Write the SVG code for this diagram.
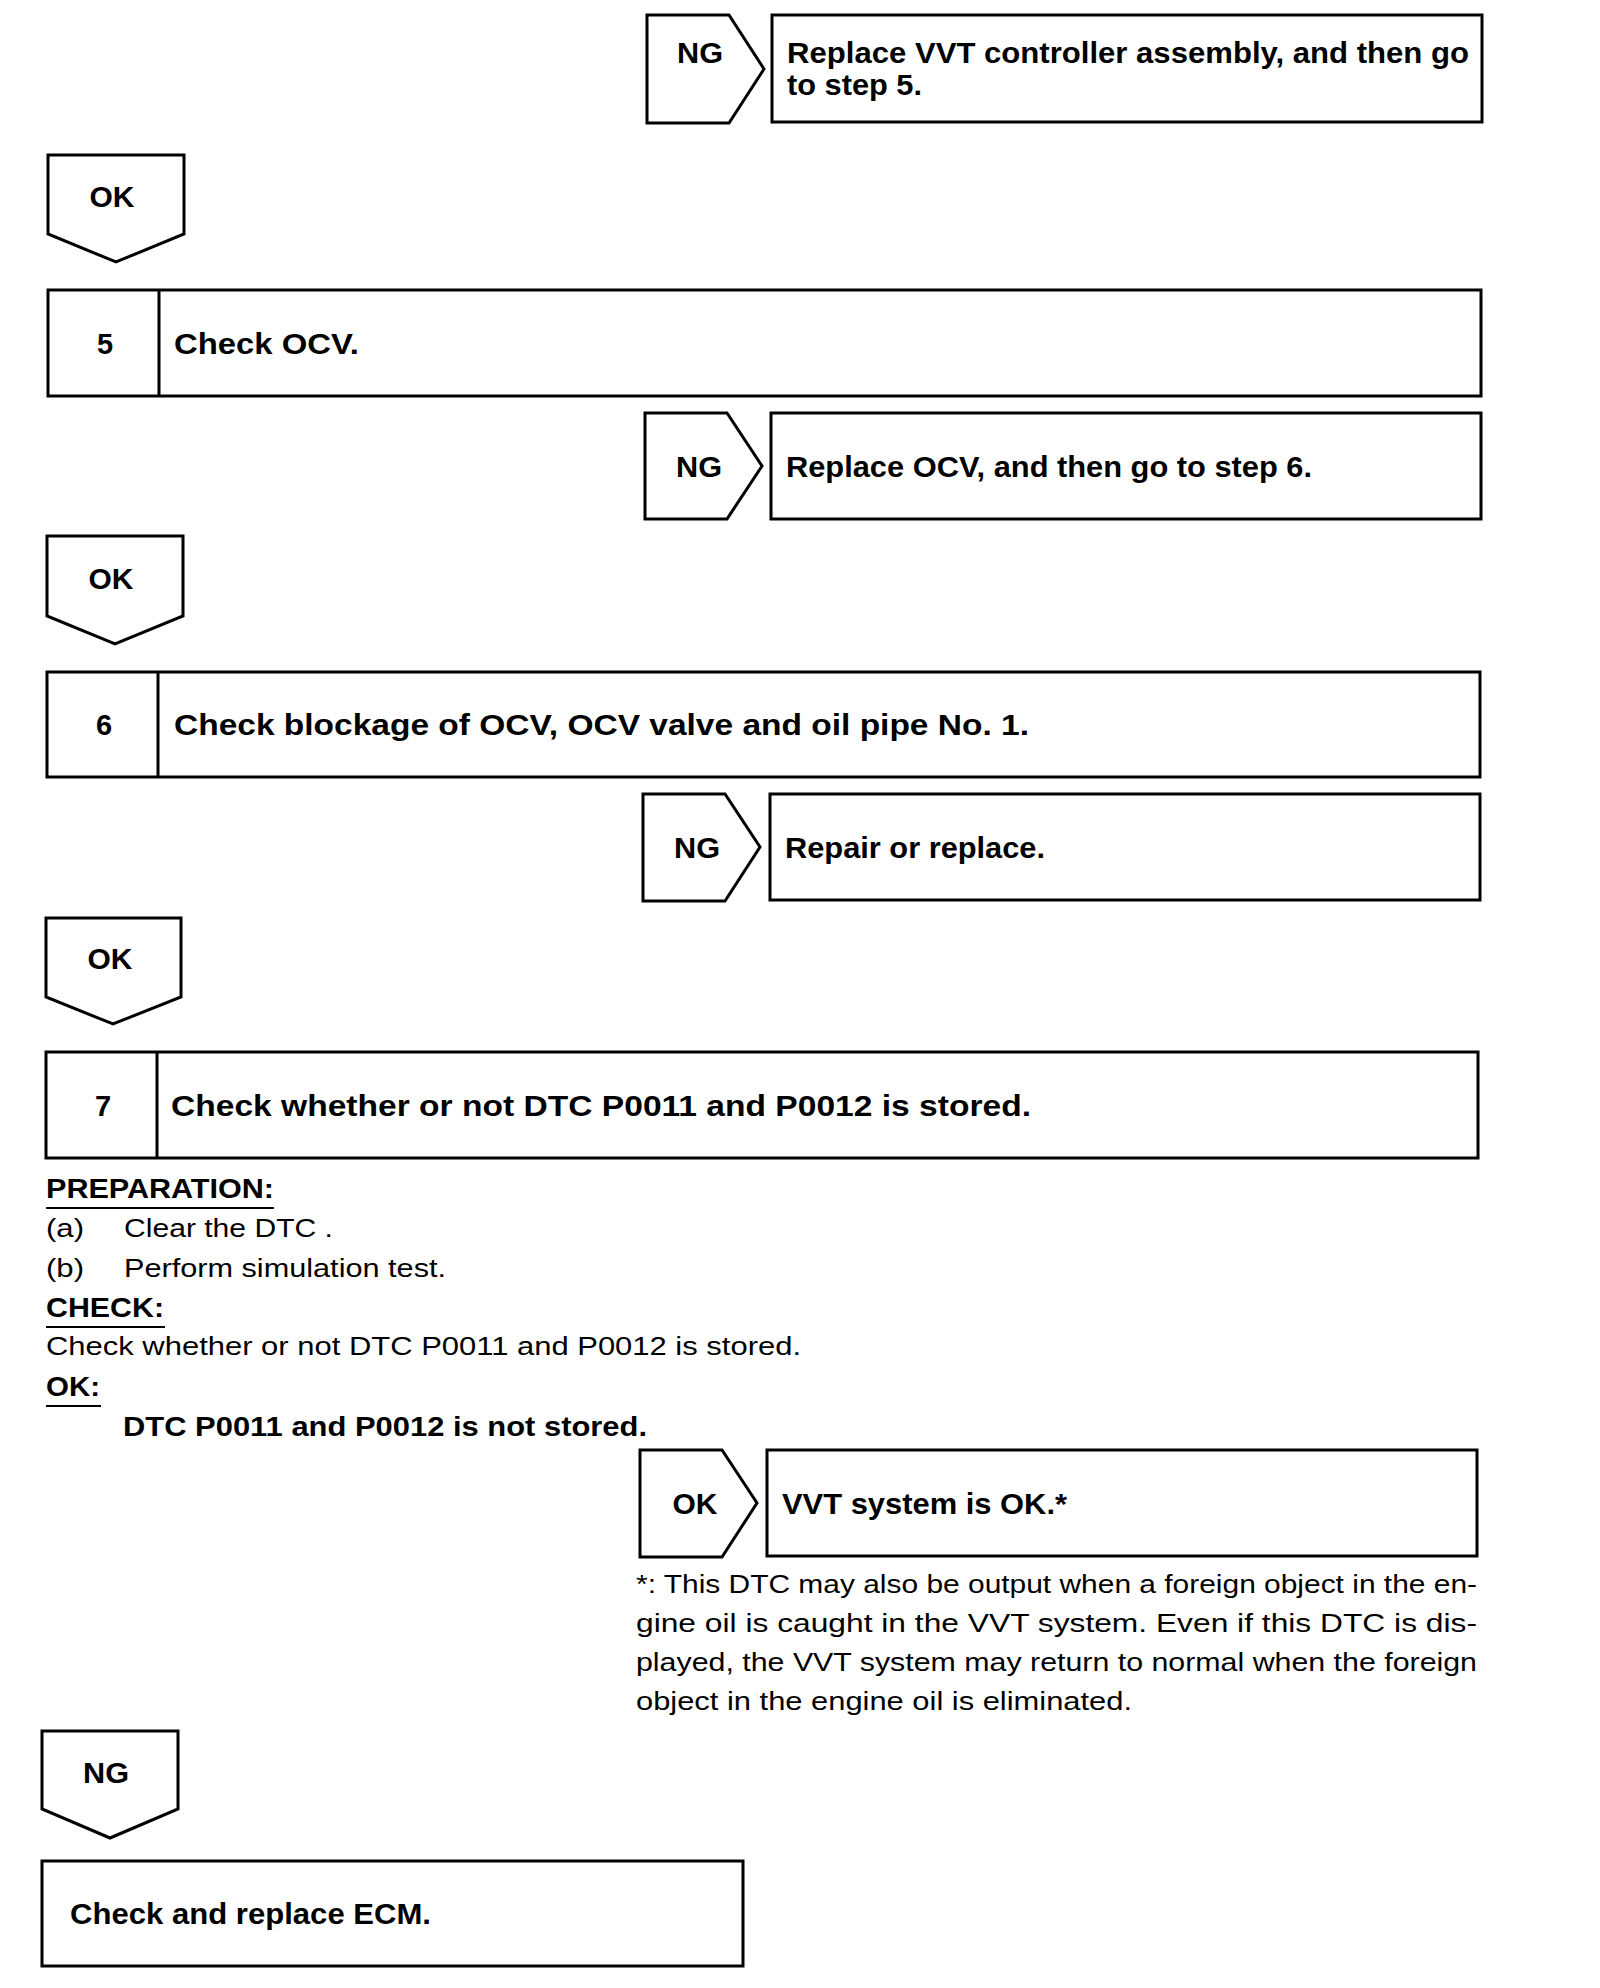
<svg xmlns="http://www.w3.org/2000/svg" width="1600" height="1988" viewBox="0 0 1600 1988">
<style>
.shape{fill:#fff;stroke:#000;stroke-width:3;stroke-linejoin:miter}
.b{font-family:"Liberation Sans",Arial,sans-serif;font-weight:bold;font-size:29px;fill:#000}
.lbl{font-family:"Liberation Sans",Arial,sans-serif;font-weight:bold;font-size:29px;fill:#000;text-anchor:middle}
.pb{font-family:"Liberation Sans",Arial,sans-serif;font-weight:bold;font-size:27px;fill:#000}
.r{font-family:"Liberation Sans",Arial,sans-serif;font-size:25px;fill:#000}
.ul{stroke:#000;stroke-width:1.8}
</style>
<rect width="1600" height="1988" fill="#fff"/>
<g id="connectors"></g>

<g id="ng1">
<polygon class="shape" points="647,15 729,15 764,69 729,123 647,123"/>
<text class="lbl" x="700" y="63" textLength="46" lengthAdjust="spacingAndGlyphs">NG</text>
</g>
<g id="box1">
<rect class="shape" x="772" y="15" width="710" height="107"/>
<text class="b" x="787" y="63" textLength="682" lengthAdjust="spacingAndGlyphs">Replace VVT controller assembly, and then go</text>
<text class="b" x="787" y="95" textLength="135" lengthAdjust="spacingAndGlyphs">to step 5.</text>
</g>

<g id="ok1">
<polygon class="shape" points="48,155 184,155 184,234 116,262 48,234"/>
<text class="lbl" x="112" y="207" textLength="45" lengthAdjust="spacingAndGlyphs">OK</text>
</g>

<g id="step5">
<rect class="shape" x="48" y="290" width="1433" height="106"/>
<line class="shape" x1="159" y1="290" x2="159" y2="396"/>
<text class="lbl" x="105" y="354">5</text>
<text class="b" x="174" y="354" textLength="185" lengthAdjust="spacingAndGlyphs">Check OCV.</text>
</g>

<g id="ng2">
<polygon class="shape" points="645,413 727,413 762,466 727,519 645,519"/>
<text class="lbl" x="699" y="477" textLength="46" lengthAdjust="spacingAndGlyphs">NG</text>
</g>
<g id="box2">
<rect class="shape" x="771" y="413" width="710" height="106"/>
<text class="b" x="786" y="477" textLength="526" lengthAdjust="spacingAndGlyphs">Replace OCV, and then go to step 6.</text>
</g>

<g id="ok2">
<polygon class="shape" points="47,536 183,536 183,616 115,644 47,616"/>
<text class="lbl" x="111" y="589" textLength="45" lengthAdjust="spacingAndGlyphs">OK</text>
</g>

<g id="step6">
<rect class="shape" x="47" y="672" width="1433" height="105"/>
<line class="shape" x1="158" y1="672" x2="158" y2="777"/>
<text class="lbl" x="104" y="735">6</text>
<text class="b" x="174" y="735" textLength="855" lengthAdjust="spacingAndGlyphs">Check blockage of OCV, OCV valve and oil pipe No. 1.</text>
</g>

<g id="ng3">
<polygon class="shape" points="643,794 725,794 760,847 725,901 643,901"/>
<text class="lbl" x="697" y="858" textLength="46" lengthAdjust="spacingAndGlyphs">NG</text>
</g>
<g id="box3">
<rect class="shape" x="770" y="794" width="710" height="106"/>
<text class="b" x="785" y="858" textLength="260" lengthAdjust="spacingAndGlyphs">Repair or replace.</text>
</g>

<g id="ok3">
<polygon class="shape" points="46,918 181,918 181,997 113,1024 46,997"/>
<text class="lbl" x="110" y="969" textLength="45" lengthAdjust="spacingAndGlyphs">OK</text>
</g>

<g id="step7">
<rect class="shape" x="46" y="1052" width="1432" height="106"/>
<line class="shape" x1="157" y1="1052" x2="157" y2="1158"/>
<text class="lbl" x="103" y="1116">7</text>
<text class="b" x="171" y="1116" textLength="860" lengthAdjust="spacingAndGlyphs">Check whether or not DTC P0011 and P0012 is stored.</text>
</g>

<g id="step7-details">
<text class="pb" x="46" y="1198" textLength="228" lengthAdjust="spacingAndGlyphs">PREPARATION:</text>
<line class="ul" x1="46" y1="1208" x2="274" y2="1208"/>
<text class="r" x="46" y="1237" textLength="38" lengthAdjust="spacingAndGlyphs">(a)</text>
<text class="r" x="124" y="1237" textLength="209" lengthAdjust="spacingAndGlyphs">Clear the DTC .</text>
<text class="r" x="46" y="1277" textLength="38" lengthAdjust="spacingAndGlyphs">(b)</text>
<text class="r" x="124" y="1277" textLength="322" lengthAdjust="spacingAndGlyphs">Perform simulation test.</text>
<text class="pb" x="46" y="1317" textLength="118" lengthAdjust="spacingAndGlyphs">CHECK:</text>
<line class="ul" x1="46" y1="1327" x2="165" y2="1327"/>
<text class="r" x="46" y="1355" textLength="755" lengthAdjust="spacingAndGlyphs">Check whether or not DTC P0011 and P0012 is stored.</text>
<text class="pb" x="46" y="1396" textLength="54" lengthAdjust="spacingAndGlyphs">OK:</text>
<line class="ul" x1="46" y1="1406" x2="101" y2="1406"/>
<text class="pb" x="123" y="1436" textLength="524" lengthAdjust="spacingAndGlyphs">DTC P0011 and P0012 is not stored.</text>
</g>

<g id="ok4">
<polygon class="shape" points="640,1450 722,1450 757,1503 722,1557 640,1557"/>
<text class="lbl" x="695" y="1514" textLength="45" lengthAdjust="spacingAndGlyphs">OK</text>
</g>
<g id="box4">
<rect class="shape" x="767" y="1450" width="710" height="106"/>
<text class="b" x="782" y="1514" textLength="285" lengthAdjust="spacingAndGlyphs">VVT system is OK.*</text>
</g>

<g id="footnote">
<text class="r" x="636" y="1593" textLength="841" lengthAdjust="spacingAndGlyphs">*: This DTC may also be output when a foreign object in the en-</text>
<text class="r" x="636" y="1632" textLength="841" lengthAdjust="spacingAndGlyphs">gine oil is caught in the VVT system. Even if this DTC is dis-</text>
<text class="r" x="636" y="1671" textLength="841" lengthAdjust="spacingAndGlyphs">played, the VVT system may return to normal when the foreign</text>
<text class="r" x="636" y="1710" textLength="496" lengthAdjust="spacingAndGlyphs">object in the engine oil is eliminated.</text>
</g>

<g id="ng4">
<polygon class="shape" points="42,1731 178,1731 178,1809 110,1838 42,1809"/>
<text class="lbl" x="106" y="1783" textLength="46" lengthAdjust="spacingAndGlyphs">NG</text>
</g>
<g id="box5">
<rect class="shape" x="42" y="1861" width="701" height="105"/>
<text class="b" x="70" y="1924" textLength="361" lengthAdjust="spacingAndGlyphs">Check and replace ECM.</text>
</g>
</svg>
